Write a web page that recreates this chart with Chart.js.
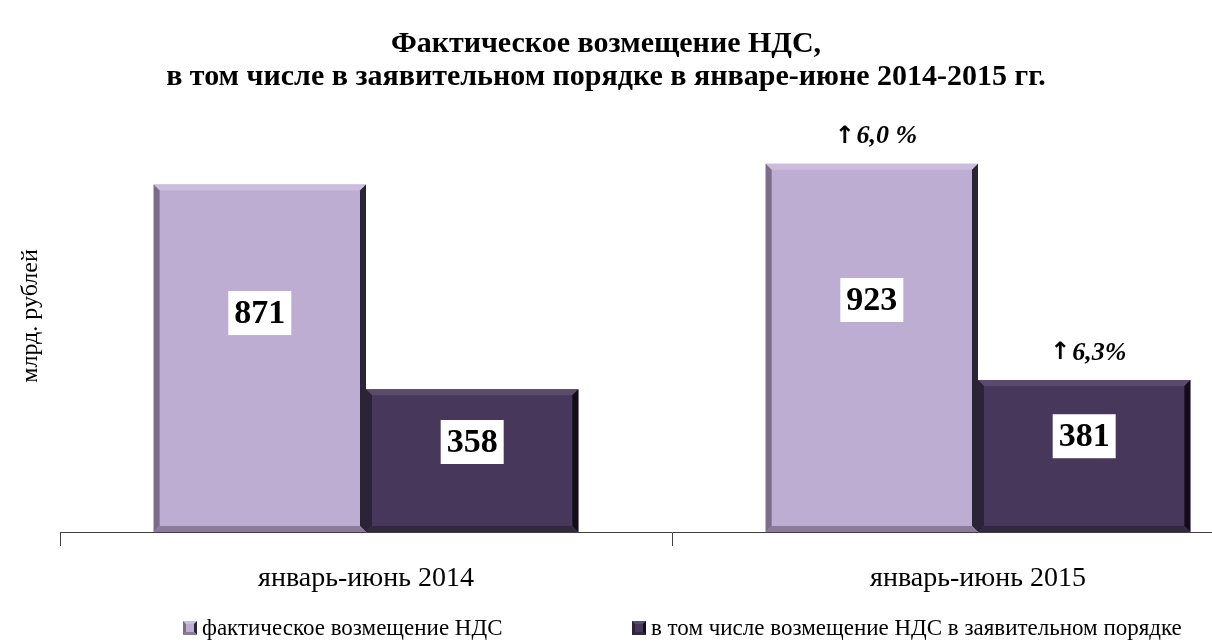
<!DOCTYPE html>
<html>
<head>
<meta charset="utf-8">
<script src="https://cdn.jsdelivr.net/npm/chart.js@4.4.1/dist/chart.umd.min.js"></script>
<style>
  html, body { margin: 0; padding: 0; background: #fff; overflow: hidden; }
  #wrap { width: 1212px; height: 642px; overflow: hidden; position: relative; }
  #wrap canvas { position: absolute; left: 0; top: 0; }
</style>
</head>
<body>
<div id="wrap"><canvas id="vat" width="1290" height="642"></canvas></div>
<script>
const categories = ['январь-июнь 2014', 'январь-июнь 2015'];
const seriesNames = ['фактическое возмещение НДС', 'в том числе возмещение НДС в заявительном порядке'];
const actualRefund = [871, 923];
const declarativeRefund = [358, 381];
const actualGrowth = [null, '6,0 %'];
const declarativeGrowth = [null, '6,3%'];
const titleLines = ['Фактическое возмещение НДС,', 'в том числе в заявительном порядке в январе-июне 2014-2015 гг.'];
const yTitle = 'млрд. рублей';

const SERIF = '"Liberation Serif", "Times New Roman", serif';

// colours for bar face and bevel edges
const palette = [
    { face: '#BEADD3', top: '#CBBEDD', left: '#7B6C8C', right: '#2B2336', bottom: '#8A7B9B' },
    { face: '#47375A', top: '#5A4A6D', left: '#2D2339', right: '#120D19', bottom: '#34283F' }
];

function bevel(ctx, x0, y0, x1, y1, e, c) {
    ctx.fillStyle = c.top;
    ctx.beginPath();
    ctx.moveTo(x0, y0); ctx.lineTo(x1, y0); ctx.lineTo(x1 - e, y0 + e); ctx.lineTo(x0 + e, y0 + e);
    ctx.fill();
    ctx.fillStyle = c.left;
    ctx.beginPath();
    ctx.moveTo(x0, y0); ctx.lineTo(x0 + e, y0 + e); ctx.lineTo(x0 + e, y1 - e); ctx.lineTo(x0, y1);
    ctx.fill();
    ctx.fillStyle = c.right;
    ctx.beginPath();
    ctx.moveTo(x1, y0); ctx.lineTo(x1, y1); ctx.lineTo(x1 - e, y1 - e); ctx.lineTo(x1 - e, y0 + e);
    ctx.fill();
    ctx.fillStyle = c.bottom;
    ctx.beginPath();
    ctx.moveTo(x0, y1); ctx.lineTo(x0 + e, y1 - e); ctx.lineTo(x1 - e, y1 - e); ctx.lineTo(x1, y1);
    ctx.fill();
}

const decorPlugin = {
    id: 'decor',
    afterDatasetsDraw(chart) {
        const ctx = chart.ctx;
        const growth = [actualGrowth, declarativeGrowth];
        chart.data.datasets.forEach((ds, di) => {
            const meta = chart.getDatasetMeta(di);
            meta.data.forEach((bar, i) => {
                const x0 = bar.x - bar.width / 2, x1 = bar.x + bar.width / 2;
                const y0 = bar.y, y1 = bar.base;
                ctx.save();
                bevel(ctx, x0, y0, x1, y1, 6, palette[di]);

                // value label in a white box
                const ly = y0 + (y1 - y0) * 0.37;
                ctx.font = 'bold 34px ' + SERIF;
                const txt = String(ds.data[i]);
                const w = ctx.measureText(txt).width + 12;
                ctx.fillStyle = '#fff';
                ctx.fillRect(bar.x - w / 2, ly - 22, w, 44);
                ctx.fillStyle = '#000';
                ctx.textAlign = 'center';
                ctx.textBaseline = 'middle';
                ctx.fillText(txt, bar.x, ly + 1);

                // growth annotation above the bar
                const g = growth[di][i];
                if (g) {
                    const gy = y0 - 27;
                    ctx.font = 'bold italic 26px ' + SERIF;
                    const gw = ctx.measureText(g).width;
                    ctx.font = 'bold 24px "DejaVu Sans"';
                    const aw = ctx.measureText('↑').width;
                    const sx = bar.x + 4 - (gw + aw + 2) / 2;
                    ctx.textAlign = 'left';
                    ctx.fillText('↑', sx, gy);
                    ctx.font = 'bold italic 26px ' + SERIF;
                    ctx.fillText(g, sx + aw + 2, gy);
                }
                ctx.restore();
            });
        });
    },
    afterDraw(chart) {
        const ctx = chart.ctx;
        ctx.save();
        ctx.fillStyle = '#000';
        ctx.textAlign = 'center';
        ctx.textBaseline = 'middle';
        ctx.font = 'bold 30px ' + SERIF;
        ctx.fillText(titleLines[0], 606, 44);
        ctx.fillText(titleLines[1], 606, 77);

        ctx.save();
        ctx.translate(31, 316);
        ctx.rotate(-Math.PI / 2);
        ctx.font = '24px ' + SERIF;
        ctx.fillText(yTitle, 0, 0);
        ctx.restore();

        // legend
        const items = [[183, seriesNames[0]], [632, seriesNames[1]]];
        ctx.font = '23px ' + SERIF;
        ctx.textAlign = 'left';
        items.forEach(([x, name], k) => {
            const c = palette[k];
            ctx.fillStyle = c.face;
            ctx.fillRect(x, 621, 14, 14);
            bevel(ctx, x, 621, x + 14, 635, 3, c);
            ctx.fillStyle = '#000';
            ctx.fillText(name, x + 19, 629);
        });
        ctx.restore();
    }
};

new Chart(document.getElementById('vat'), {
    type: 'bar',
    data: {
        labels: categories,
        datasets: [
            { label: seriesNames[0], data: actualRefund, backgroundColor: palette[0].face },
            { label: seriesNames[1], data: declarativeRefund, backgroundColor: palette[1].face }
        ]
    },
    options: {
        responsive: false,
        animation: false,
        events: [],
        layout: { padding: { left: 60, right: 6, top: 133, bottom: 0 } },
        datasets: { bar: { barPercentage: 1, categoryPercentage: 0.694, borderWidth: 0 } },
        plugins: { legend: { display: false }, title: { display: false }, tooltip: { enabled: false } },
        scales: {
            x: {
                afterFit(scale) { scale.height = 110; },
                grid: { offset: true, drawOnChartArea: false, drawTicks: true, tickLength: 14, color: '#404040', lineWidth: 1 },
                border: { display: true, color: '#404040', width: 1 },
                ticks: { color: '#000', padding: 16, font: { family: SERIF, size: 28 } }
            },
            y: {
                display: false,
                min: 0,
                max: 1000
            }
        }
    },
    plugins: [decorPlugin]
});
</script>
</body>
</html>
